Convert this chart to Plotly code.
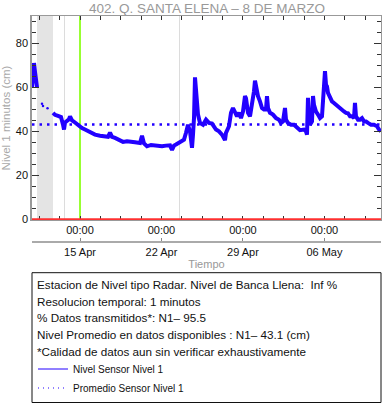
import plotly.graph_objects as go

# ---------------- data ----------------
tiempo = [
    "2019-04-10 21:00", "2019-04-10 23:05", "2019-04-11 01:09", "2019-04-11 03:13",
    "2019-04-11 05:17", "2019-04-11 07:20", "2019-04-11 12:00",
    "2019-04-12 16:20", "2019-04-12 20:27", "2019-04-13 02:38", "2019-04-13 08:49",
    "2019-04-13 12:57", "2019-04-13 15:01", "2019-04-13 17:04", "2019-04-13 21:12",
    "2019-04-14 01:19", "2019-04-14 03:23", "2019-04-14 07:30", "2019-04-14 13:41",
    "2019-04-14 21:56", "2019-04-15 04:07", "2019-04-15 10:19", "2019-04-15 20:37",
    "2019-04-16 06:56", "2019-04-16 17:14", "2019-04-17 03:33", "2019-04-17 09:44",
    "2019-04-17 13:52", "2019-04-17 17:59", "2019-04-18 00:10", "2019-04-18 08:25",
    "2019-04-18 16:40", "2019-04-19 00:55", "2019-04-19 07:06", "2019-04-19 17:24",
    "2019-04-20 03:43", "2019-04-20 07:50", "2019-04-20 11:58", "2019-04-20 18:09",
    "2019-04-21 02:24", "2019-04-21 10:38", "2019-04-21 18:53", "2019-04-22 01:05",
    "2019-04-22 09:19", "2019-04-22 17:34", "2019-04-22 21:42", "2019-04-23 01:49",
    "2019-04-23 05:56", "2019-04-23 10:04", "2019-04-23 14:11", "2019-04-23 18:19",
    "2019-04-23 22:26", "2019-04-24 02:34", "2019-04-24 06:41", "2019-04-24 10:49",
    "2019-04-24 12:52", "2019-04-24 14:56", "2019-04-24 17:00", "2019-04-24 19:04",
    "2019-04-24 21:07", "2019-04-24 23:11", "2019-04-25 01:14", "2019-04-25 03:18",
    "2019-04-25 07:26", "2019-04-25 13:37", "2019-04-25 19:48", "2019-04-26 01:59",
    "2019-04-26 08:10", "2019-04-26 16:25", "2019-04-26 22:36", "2019-04-27 04:47",
    "2019-04-27 10:59", "2019-04-27 13:02", "2019-04-27 19:13", "2019-04-27 23:21",
    "2019-04-28 03:28", "2019-04-28 07:36", "2019-04-28 11:43", "2019-04-28 15:50",
    "2019-04-28 19:58", "2019-04-29 00:05", "2019-04-29 04:13", "2019-04-29 06:17",
    "2019-04-29 10:24", "2019-04-29 14:31", "2019-04-29 18:39", "2019-04-29 22:46",
    "2019-04-30 00:50", "2019-04-30 02:53", "2019-04-30 07:01", "2019-04-30 11:08",
    "2019-04-30 15:16", "2019-04-30 19:23", "2019-04-30 23:31", "2019-05-01 01:34",
    "2019-05-01 03:38", "2019-05-01 07:46", "2019-05-01 13:57", "2019-05-01 20:08",
    "2019-05-02 02:19", "2019-05-02 06:26", "2019-05-02 10:34", "2019-05-02 14:41",
    "2019-05-02 16:45", "2019-05-02 20:53", "2019-05-03 03:04", "2019-05-03 09:15",
    "2019-05-03 15:26", "2019-05-03 21:37", "2019-05-04 05:52", "2019-05-04 09:59",
    "2019-05-04 12:03", "2019-05-04 14:07", "2019-05-04 16:10", "2019-05-04 18:14",
    "2019-05-04 22:22", "2019-05-05 00:25", "2019-05-05 02:29", "2019-05-05 06:37",
    "2019-05-05 10:44", "2019-05-05 14:52", "2019-05-05 18:59", "2019-05-05 21:02",
    "2019-05-05 23:06", "2019-05-06 01:10", "2019-05-06 03:14", "2019-05-06 05:17",
    "2019-05-06 07:21", "2019-05-06 11:28", "2019-05-06 15:36", "2019-05-06 19:43",
    "2019-05-06 23:51", "2019-05-07 03:58", "2019-05-07 08:05", "2019-05-07 12:13",
    "2019-05-07 16:20", "2019-05-07 20:28", "2019-05-08 00:35", "2019-05-08 04:43",
    "2019-05-08 08:50", "2019-05-08 12:58", "2019-05-08 15:01", "2019-05-08 17:05",
    "2019-05-08 21:13", "2019-05-09 01:20", "2019-05-09 05:28", "2019-05-09 09:35",
    "2019-05-09 13:42", "2019-05-09 17:50", "2019-05-10 00:01", "2019-05-10 06:12",
    "2019-05-10 12:23", "2019-05-10 16:31", "2019-05-10 20:38",
]
nivel = [
    60, 65, 71, 67,
    62, 60, None,
    48.4, 47.5, 47, 46.5,
    43, 40.8, 44, 45,
    45.5, 46.8, 45, 44,
    42.3, 41.5, 40.8, 39.5,
    38.5, 38, 37.7, 37.5,
    39.4, 37.5, 37, 36,
    35.2, 35.5, 35.2, 35,
    34.7, 38, 34.5, 33.2,
    33.8, 33.6, 33, 33.2,
    33.5, 33.6, 31.5, 33.5,
    34, 34.5, 35.5, 35.8,
    36.2, 39.3, 43, 40,
    36, 32.5, 38.5, 46,
    64.5, 60, 52, 47.6,
    43.8, 43, 45.3, 43.8,
    43.5, 40.8, 40, 38.5,
    36, 39.3, 42.3, 48.4,
    50.6, 48.4, 46.8, 48.4,
    46, 49, 56, 55,
    48.4, 46.8, 52, 58.2,
    63, 60.4, 56, 53.6,
    50.6, 49.9, 49.9, 56,
    50.6, 48.4, 47.6, 46,
    45.3, 43.8, 44.5, 50.6,
    45.3, 43.8, 43, 43,
    41.5, 40.5, 40.8, 40,
    38.5, 55.2, 46, 43,
    44.5, 56, 52, 49,
    47.6, 46, 46.8, 53.6,
    65.8, 67.3, 61.2, 60.4,
    57.5, 55.2, 53.6, 52.9,
    52, 51.4, 50.6, 49.9,
    49, 48.4, 48.2, 46.8,
    46.8, 46, 52.9, 46.8,
    45.3, 45.3, 46, 44.5,
    44.5, 43.8, 43, 43,
    42.3, 40.8, 40,
]
sueltos_t = ["2019-04-11 17:38", "2019-04-11 19:42", "2019-04-12 05:00"]
sueltos_v = [52.5, 51.5, 50.5]

promedio = 43.1
rango_x = ["2019-04-10 21:00", "2019-05-10 20:40"]
zona_gris = ["2019-04-11 07:20", "2019-04-12 16:20"]
lineas_grises = ["2019-04-13 16:00", "2019-04-23 13:10"]
linea_verde = "2019-04-15 00:00"
banca_llena = 0

titulo = "402. Q. SANTA ELENA \u2013 8 DE MARZO"
textos = [
    "Estacion de Nivel tipo Radar. Nivel de Banca Llena:  Inf %",
    "Resolucion temporal: 1 minutos",
    "% Datos transmitidos*: N1\u2013 95.5",
    "Nivel Promedio en datos disponibles : N1\u2013 43.1 (cm)",
    "*Calidad de datos aun sin verificar exhaustivamente",
]
nombres = ["Nivel Sensor Nivel 1", "Promedio Sensor Nivel 1"]

# ---------------- figure ----------------
AZUL = "#2200ff"
FONT = "Liberation Sans, Arial, sans-serif"
W, H = 382, 404
ML, MR, MT, MB = 32, 1, 16, 1
paper_h = H - MT - MB
def py(ypx):
    return (H - MB - ypx) / paper_h
def px(xpx):
    return (xpx - ML) / (W - ML - MR)

fig = go.Figure()
fig.add_trace(go.Scatter(x=tiempo, y=nivel, mode="lines", connectgaps=False,
                         line=dict(color=AZUL, width=4), showlegend=False))
fig.add_trace(go.Scatter(x=sueltos_t, y=sueltos_v, mode="markers",
                         marker=dict(color=AZUL, size=2.5), showlegend=False))
fig.add_trace(go.Scatter(x=rango_x, y=[promedio, promedio], mode="lines",
                         line=dict(color=AZUL, width=2.5, dash="2.5px,5px"),
                         showlegend=False))
# legend entries
fig.add_trace(go.Scatter(x=[None], y=[None], mode="lines", name=nombres[0],
                         line=dict(color=AZUL, width=1)))
fig.add_trace(go.Scatter(x=[None], y=[None], mode="lines", name=nombres[1],
                         line=dict(color=AZUL, width=1.2, dash="1px,4px")))

shapes = [
    dict(type="rect", xref="x", yref="y domain", x0=zona_gris[0], x1=zona_gris[1],
         y0=0, y1=1, fillcolor="#e4e4e4", line=dict(width=0), layer="below"),
]
for d in lineas_grises:
    shapes.append(dict(type="line", xref="x", yref="y domain", x0=d, x1=d, y0=0, y1=1,
                       line=dict(color="#dcdcdc", width=1), layer="below"))
shapes.append(dict(type="line", xref="x", yref="y domain", x0=linea_verde, x1=linea_verde,
                   y0=0, y1=1, line=dict(color="#80ff00", width=1.6), layer="below"))
shapes.append(dict(type="line", xref="paper", yref="y", x0=0, x1=1,
                   y0=banca_llena, y1=banca_llena, line=dict(color="#ff3030", width=2)))
shapes.append(dict(type="rect", xref="paper", yref="paper", x0=0, x1=1,
                   y0=py(402.5), y1=py(272.7), line=dict(color="#111", width=1),
                   fillcolor="rgba(0,0,0,0)"))

annotations = [
    dict(text=titulo, xref="paper", yref="paper", x=0.5, y=py(8.5), xanchor="center",
         yanchor="middle", showarrow=False, font=dict(size=13.5, color="#999999", family=FONT)),
]
ys = [284.3, 301.1, 317.9, 334.7, 351.5]
for t, yc in zip(textos, ys):
    annotations.append(dict(text=t, xref="paper", yref="paper", x=px(35), y=py(yc),
                            xanchor="left", yanchor="middle", showarrow=False,
                            font=dict(size=11.7, color="#111", family=FONT)))

fig.update_layout(
    width=W, height=H, margin=dict(l=ML, r=MR, t=MT, b=MB, autoexpand=False),
    paper_bgcolor="white", plot_bgcolor="white",
    font=dict(family=FONT, color="#111"),
    shapes=shapes, annotations=annotations,
    legend=dict(x=px(33), y=py(354.5), xanchor="left", yanchor="top",
                bgcolor="rgba(0,0,0,0)", font=dict(size=10, color="#111", family=FONT),
                tracegroupgap=0, itemwidth=30),
    xaxis=dict(range=rango_x, type="date", showgrid=False, zeroline=False, automargin=False,
               showline=True, linecolor="#999", linewidth=1, mirror="ticks",
               ticks="inside", ticklen=4, tickcolor="#333",
               tick0="2019-04-15", dtick=7 * 86400000, tickformat="%H:%M",
               tickfont=dict(size=11, color="#111", family=FONT),
               minor=dict(ticks="inside", ticklen=4, tickcolor="#333",
                          tick0="2019-04-15", dtick=1.75 * 86400000, showgrid=False)),
    xaxis2=dict(range=rango_x, type="date", overlaying="x", anchor="free", automargin=False,
                position=py(241.7), side="bottom", showgrid=False, zeroline=False,
                showline=True, linecolor="#aaa", linewidth=2,
                ticks="inside", ticklen=3, tickcolor="#888",
                tick0="2019-04-15", dtick=7 * 86400000, tickformat="%d %b",
                tickfont=dict(size=11, color="#111", family=FONT),
                title=dict(text="Tiempo", font=dict(size=11, color="#999", family=FONT),
                           standoff=2)),
    yaxis=dict(domain=[py(220), 1], range=[-0.3, 92.4], showgrid=False, zeroline=False,
               automargin=False,
               showline=True, linecolor="#999", linewidth=1.5, mirror="ticks",
               ticks="inside", ticklen=7, tickcolor="#333", dtick=20, tick0=0,
               tickfont=dict(size=11, color="#111", family=FONT),
               minor=dict(ticks="inside", ticklen=4, tickcolor="#333", dtick=5, showgrid=False),
               title=dict(text="Nivel 1 minutos (cm)", standoff=3,
                          font=dict(size=11.5, color="#aaaaaa", family=FONT))),
)
# dummy trace to activate xaxis2
fig.add_trace(go.Scatter(x=[None], y=[None], xaxis="x2", showlegend=False))

fig.write_html("out.html", config={"displayModeBar": False},
               post_script="document.body.style.margin='0';document.body.style.overflow='hidden';")
